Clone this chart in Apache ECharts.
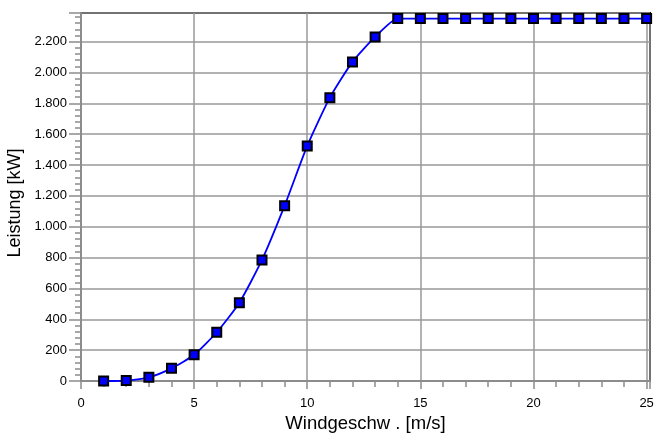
<!DOCTYPE html>
<html>
<head>
<meta charset="utf-8">
<script src="https://cdn.jsdelivr.net/npm/echarts@6/dist/echarts.min.js"></script>
<style>
  html, body { margin: 0; padding: 0; background: #fff; }
  #chart { width: 654px; height: 434px; }
</style>
</head>
<body>
<div id="chart"></div>
<script>
// Wind speed (m/s) and power output (kW) of the power curve
const windSpeed = [1, 2, 3, 4, 5, 6, 7, 8, 9, 10, 11, 12, 13, 14, 15, 16, 17, 18, 19, 20, 21, 22, 23, 24, 25];
const power = [0, 3, 24, 82, 170, 316, 508, 785, 1137, 1524, 1837, 2069, 2231, 2350, 2350, 2350, 2350, 2350, 2350, 2350, 2350, 2350, 2350, 2350, 2350];

const xAxisName = 'Windgeschw . [m/s]';
const yAxisName = 'Leistung [kW]';

// German thousands separator: 2200 -> "2.200"
function fmtDe(v) {
  return String(Math.round(v)).replace(/\B(?=(\d{3})+(?!\d))/g, '.');
}

const font = 'Liberation Sans, Arial, sans-serif';
const gray = '#8c8c8c';

const chart = echarts.init(document.getElementById('chart'), null, { renderer: 'canvas' });
chart.setOption({
  animation: false,
  backgroundColor: '#fff',
  grid: {
    left: 81, right: 4, top: 13, bottom: 53,
    containLabel: false,
    outerBoundsMode: 'none',
    show: true,
    borderColor: '#000',
    borderWidth: 2,
    backgroundColor: '#fff'
  },
  xAxis: {
    type: 'value',
    min: 0,
    max: 25.15,
    interval: 5,
    name: xAxisName,
    nameLocation: 'middle',
    nameGap: 32,
    nameTextStyle: { fontFamily: font, fontSize: 18.5, color: '#000' },
    axisLine: { show: true, onZero: false, lineStyle: { color: gray, width: 2 } },
    axisTick: { show: true, length: 8, lineStyle: { color: gray, width: 1.5 } },
    minorTick: { show: true, splitNumber: 5, length: 6, lineStyle: { color: gray, width: 1.5 } },
    axisLabel: { margin: 16, fontFamily: font, fontSize: 13, color: '#000', showMaxLabel: false,
      formatter: v => fmtDe(v) },
    splitLine: { show: true, lineStyle: { color: '#999', width: 1.5 } }
  },
  yAxis: {
    type: 'value',
    min: 0,
    max: 2386,
    interval: 200,
    name: yAxisName,
    nameLocation: 'middle',
    nameGap: 52,
    nameRotate: 90,
    nameTextStyle: { fontFamily: font, fontSize: 18, color: '#000', padding: [0, 12, 0, 0] },
    axisLine: { show: true, onZero: false, lineStyle: { color: gray, width: 2 } },
    axisTick: { show: true, length: 12, lineStyle: { color: gray, width: 1.5 } },
    minorTick: { show: true, splitNumber: 5, length: 6, lineStyle: { color: gray, width: 1.5 } },
    axisLabel: { margin: 14, fontFamily: font, fontSize: 13, color: '#000', showMaxLabel: false,
      formatter: v => fmtDe(v) },
    splitLine: { show: true, lineStyle: { color: '#999', width: 1.5 } }
  },
  series: [{
    type: 'line',
    data: windSpeed.map((x, i) => [x, power[i]]),
    smooth: 0.2,
    clip: false,
    symbol: 'rect',
    symbolSize: 9,
    lineStyle: { color: '#0000ff', width: 1.8 },
    itemStyle: { color: '#0000ff', borderColor: '#000', borderWidth: 2 },
    z: 5
  }]
});
</script>
</body>
</html>
